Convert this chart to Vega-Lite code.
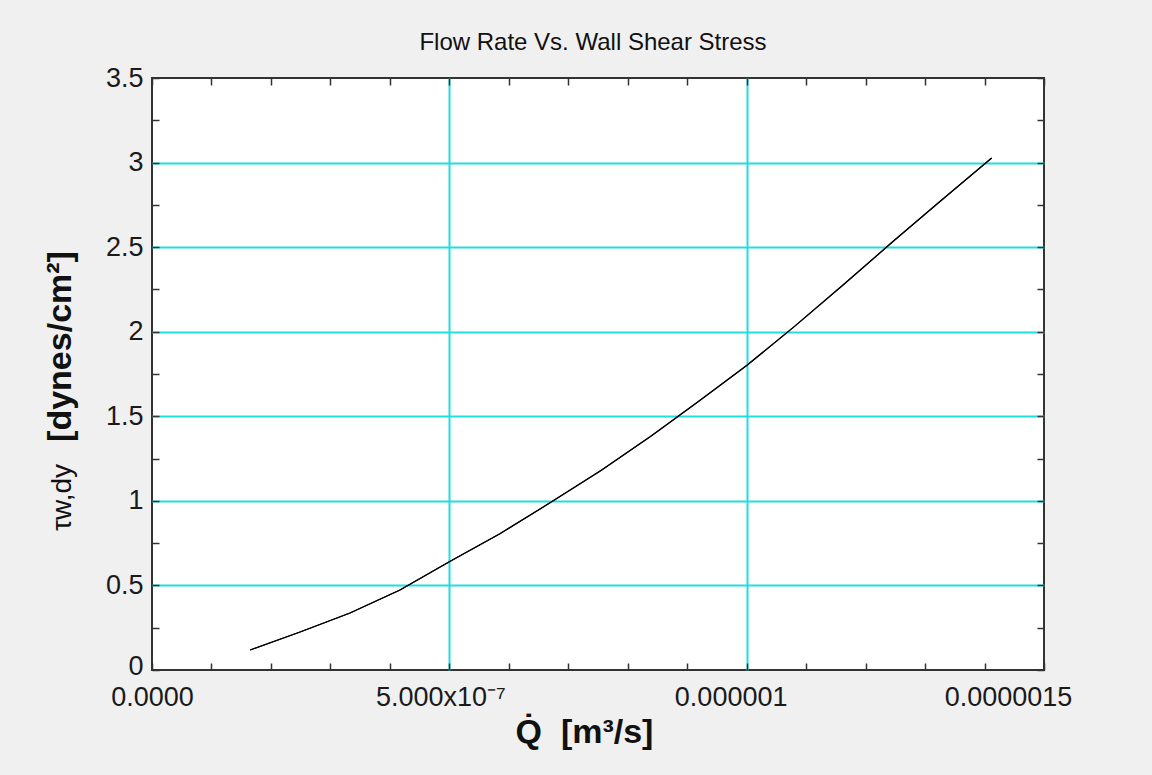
{
  "$schema": "https://vega.github.io/schema/vega-lite/v6.json",
  "width": 892,
  "height": 592,
  "autosize": "none",
  "padding": {"left": 152, "top": 78, "right": 108, "bottom": 105},
  "background": "#f0f0f0",
  "title": {
    "text": "Flow Rate Vs. Wall Shear Stress",
    "font": "Liberation Sans",
    "fontSize": 24,
    "fontWeight": "normal",
    "color": "#111111",
    "anchor": "middle",
    "baseline": "alphabetic",
    "offset": 30,
    "dx": -5,
    "dy": 40
  },
  "config": {
    "view": {"fill": "white", "stroke": "#333333", "strokeWidth": 2}
  },
  "data": {
    "values": [
      {"Q": 1.65e-7, "tau": 0.118},
      {"Q": 2.49e-7, "tau": 0.225},
      {"Q": 3.33e-7, "tau": 0.337},
      {"Q": 4.17e-7, "tau": 0.473},
      {"Q": 5.0e-7, "tau": 0.640},
      {"Q": 5.85e-7, "tau": 0.805},
      {"Q": 6.7e-7, "tau": 0.990},
      {"Q": 7.55e-7, "tau": 1.180},
      {"Q": 8.4e-7, "tau": 1.385},
      {"Q": 9.2e-7, "tau": 1.590},
      {"Q": 1.0e-6, "tau": 1.800},
      {"Q": 1.08e-6, "tau": 2.030},
      {"Q": 1.165e-6, "tau": 2.285},
      {"Q": 1.245e-6, "tau": 2.530},
      {"Q": 1.324e-6, "tau": 2.767},
      {"Q": 1.412e-6, "tau": 3.027}
    ]
  },
  "layer": [
    {
      "mark": {"type": "line", "color": "black", "strokeWidth": 1.2},
      "encoding": {
        "x": {
          "field": "Q",
          "type": "quantitative",
          "scale": {"domain": [0, 1.5e-6], "nice": false, "zero": false},
          "axis": {
            "orient": "bottom",
            "values": [0, 1e-7, 2e-7, 3e-7, 4e-7, 5e-7, 6e-7, 7e-7, 8e-7, 9e-7, 1e-6, 1.1e-6, 1.2e-6, 1.3e-6, 1.4e-6, 1.5e-6],
            "labelExpr": "datum.value < 5e-8 ? '0.0000' : abs(datum.value - 5e-7) < 5e-8 ? '5.000x10⁻⁷' : abs(datum.value - 1e-6) < 5e-8 ? '0.000001' : abs(datum.value - 1.5e-6) < 5e-8 ? '0.0000015' : ''",
            "labelFont": "Liberation Sans",
            "labelFontSize": 27,
            "labelColor": "#1a1a1a",
            "labelPadding": 21,
            "labelFlush": false,
            "labelOverlap": false,
            "labelBound": false,
            "labelOffset": {"condition": [{"test": "datum.value > 1.2e-6", "value": -36}, {"test": "datum.value > 7e-7", "value": -16}, {"test": "datum.value > 2e-7", "value": -9}], "value": 0},
            "tickSize": -7,
            "tickColor": "#333333",
            "tickWidth": 1.5,
            "domain": false,
            "grid": true,
            "gridColor": "#22dddd",
            "gridWidth": 2,
            "gridOpacity": {"condition": {"test": "abs(datum.value - 5e-7) < 5e-8 || abs(datum.value - 1e-6) < 5e-8", "value": 1}, "value": 0},
            "title": "Q̇\u00a0\u00a0[m³/s]",
            "titleFont": "Liberation Sans",
            "titleFontSize": 34,
            "titleFontWeight": "bold",
            "titleColor": "#111111",
            "titleX": 432,
            "titleY": 72,
            "titleBaseline": "alphabetic"
          }
        },
        "y": {
          "field": "tau",
          "type": "quantitative",
          "scale": {"domain": [0, 3.5], "nice": false},
          "axis": {
            "orient": "left",
            "values": [0, 0.25, 0.5, 0.75, 1, 1.25, 1.5, 1.75, 2, 2.25, 2.5, 2.75, 3, 3.25, 3.5],
            "labelExpr": "datum.value % 0.5 == 0 ? '' + datum.value : ''",
            "labelFont": "Liberation Sans",
            "labelFontSize": 27,
            "labelColor": "#1a1a1a",
            "labelPadding": 16,
            "labelFlush": false,
            "labelOverlap": false,
            "labelBound": false,
            "labelOffset": {"condition": {"test": "datum.value == 0", "value": -4}, "value": 0},
            "tickSize": -7,
            "tickColor": "#333333",
            "tickWidth": 1.5,
            "domain": false,
            "grid": true,
            "gridColor": "#22dddd",
            "gridWidth": 2,
            "gridOpacity": {"condition": {"test": "datum.value > 0.1 && datum.value < 3.4 && datum.value % 0.5 == 0", "value": 1}, "value": 0},
            "title": "[dynes/cm²]",
            "titleFont": "Liberation Sans",
            "titleFontSize": 34,
            "titleFontWeight": "bold",
            "titleColor": "#111111",
            "titleAngle": 270,
            "titleX": -82,
            "titleY": 268,
            "titleBaseline": "alphabetic",
            "titleAlign": "center"
          }
        }
      }
    },
    {
      "mark": {"type": "line", "color": "black", "strokeWidth": 1.2},
      "encoding": {
        "x": {
          "field": "Q",
          "type": "quantitative",
          "scale": {"domain": [0, 1.5e-6], "nice": false, "zero": false},
          "axis": {
            "orient": "top",
            "values": [0, 1e-7, 2e-7, 3e-7, 4e-7, 5e-7, 6e-7, 7e-7, 8e-7, 9e-7, 1e-6, 1.1e-6, 1.2e-6, 1.3e-6, 1.4e-6, 1.5e-6],
            "labels": false,
            "tickSize": -7,
            "tickColor": "#333333",
            "tickWidth": 1.5,
            "domain": false,
            "grid": false,
            "title": null
          }
        },
        "y": {
          "field": "tau",
          "type": "quantitative",
          "scale": {"domain": [0, 3.5], "nice": false},
          "axis": {
            "orient": "right",
            "values": [0, 0.25, 0.5, 0.75, 1, 1.25, 1.5, 1.75, 2, 2.25, 2.5, 2.75, 3, 3.25, 3.5],
            "labels": false,
            "tickSize": -7,
            "tickColor": "#333333",
            "tickWidth": 1.5,
            "domain": false,
            "grid": false,
            "title": "τw,dy",
            "titleFont": "Liberation Sans",
            "titleFontSize": 28,
            "titleFontWeight": "normal",
            "titleColor": "#111111",
            "titleAngle": 270,
            "titleX": -974,
            "titleY": 419,
            "titleBaseline": "alphabetic",
            "titleAlign": "center"
          }
        }
      }
    }
  ],
  "resolve": {"axis": {"x": "independent", "y": "independent"}}
}
